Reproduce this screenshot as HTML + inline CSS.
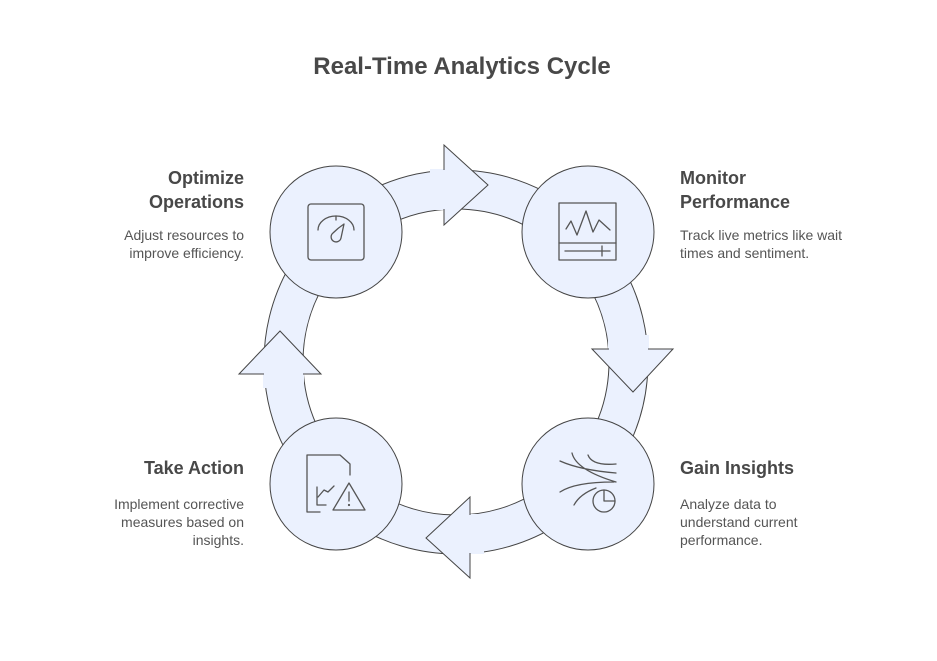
<!DOCTYPE html>
<html><head><meta charset="utf-8"><style>
body{margin:0;background:#fff;width:937px;height:661px;overflow:hidden;position:relative;font-family:"Liberation Sans",Arial,sans-serif}
.t{position:absolute;font-weight:bold;font-size:18px;color:#484848;line-height:24px}
.d{position:absolute;font-size:14px;color:#555;line-height:18px}
.r{text-align:right}
</style></head><body>
<svg width="937" height="661" style="position:absolute;left:0;top:0">
<path d="M456,170 A192,192 0 1,1 455.99,170 Z M456,209 A153,153 0 1,0 456.01,209 Z" fill="#ebf1fe" fill-rule="evenodd" stroke="#444" stroke-width="1"/>
<g fill="#ebf1fe" stroke="none">
<polygon points="444,145 488,185 444,225"/><rect x="430" y="169" width="15" height="41"/>
<polygon points="592,349 633,392 673,349"/><rect x="608" y="335" width="41" height="15"/>
<polygon points="470,497 426,538 470,578"/><rect x="469" y="514" width="15" height="40"/>
<polygon points="321,374 280,331 239,374"/><rect x="263" y="373" width="41" height="15"/>
</g>
<g fill="none" stroke="#444" stroke-width="1">
<polyline points="444,170 444,145 488,185 444,225 444,209"/>
<polyline points="609,349 592,349 633,392 673,349 648,349"/>
<polyline points="470,515 470,497 426,538 470,578 470,553"/>
<polyline points="303,374 321,374 280,331 239,374 264,374"/>
</g>
<g fill="#ebf1fe" stroke="#444" stroke-width="1">
<circle cx="336" cy="232" r="66"/><circle cx="588" cy="232" r="66"/>
<circle cx="588" cy="484" r="66"/><circle cx="336" cy="484" r="66"/>
</g>
<g fill="none" stroke="#555" stroke-width="1.3" stroke-linecap="round" stroke-linejoin="round">
<rect x="308" y="204" width="56" height="56" rx="3"/>
<path d="M318,230 A18,14 0 0,1 354,230"/><line x1="336" y1="216" x2="336" y2="220"/>
<path d="M344,224 Q338,228 333,233 A5,5 0 1,0 341,238 Z"/>
<rect x="559" y="203" width="57" height="57"/><line x1="559" y1="243" x2="616" y2="243"/>
<line x1="565" y1="251" x2="610" y2="251"/><line x1="602" y1="246" x2="602" y2="256"/>
<polyline points="566,229 571,221 577,235 586,211 593,232 599,220 610,230"/>
<path d="M560,461 Q580,470 616,473 M588,455 Q592,466 616,464 M572,453 Q576,470 616,482 M560,492 Q575,482 614,482 M574,505 Q580,494 596,488"/>
<circle cx="604" cy="501" r="11"/><path d="M604,490 V501 H615"/>
<path d="M307,455 H340 L350,464 V475 M307,455 V512 H320"/>
<polyline points="317,487 317,505 326,505"/>
<polyline points="318,497 324,490 328,492 334,486"/>
<path d="M349,483 L365,510 H333 Z"/><line x1="349" y1="492" x2="349" y2="501"/><circle cx="349" cy="505" r="0.5"/>
</g>
</svg>
<div class="t" style="left:0;top:52px;width:924px;text-align:center;font-size:24px;line-height:30px">Real-Time Analytics Cycle</div>
<div class="t r" style="right:693px;top:166px">Optimize<br>Operations</div>
<div class="d r" style="right:693px;top:226px">Adjust resources to<br>improve efficiency.</div>
<div class="t" style="left:680px;top:166px">Monitor<br>Performance</div>
<div class="d" style="left:680px;top:226px">Track live metrics like wait<br>times and sentiment.</div>
<div class="t" style="left:680px;top:456px">Gain Insights</div>
<div class="d" style="left:680px;top:495px">Analyze data to<br>understand current<br>performance.</div>
<div class="t r" style="right:693px;top:456px">Take Action</div>
<div class="d r" style="right:693px;top:495px">Implement corrective<br>measures based on<br>insights.</div>
</body></html>
